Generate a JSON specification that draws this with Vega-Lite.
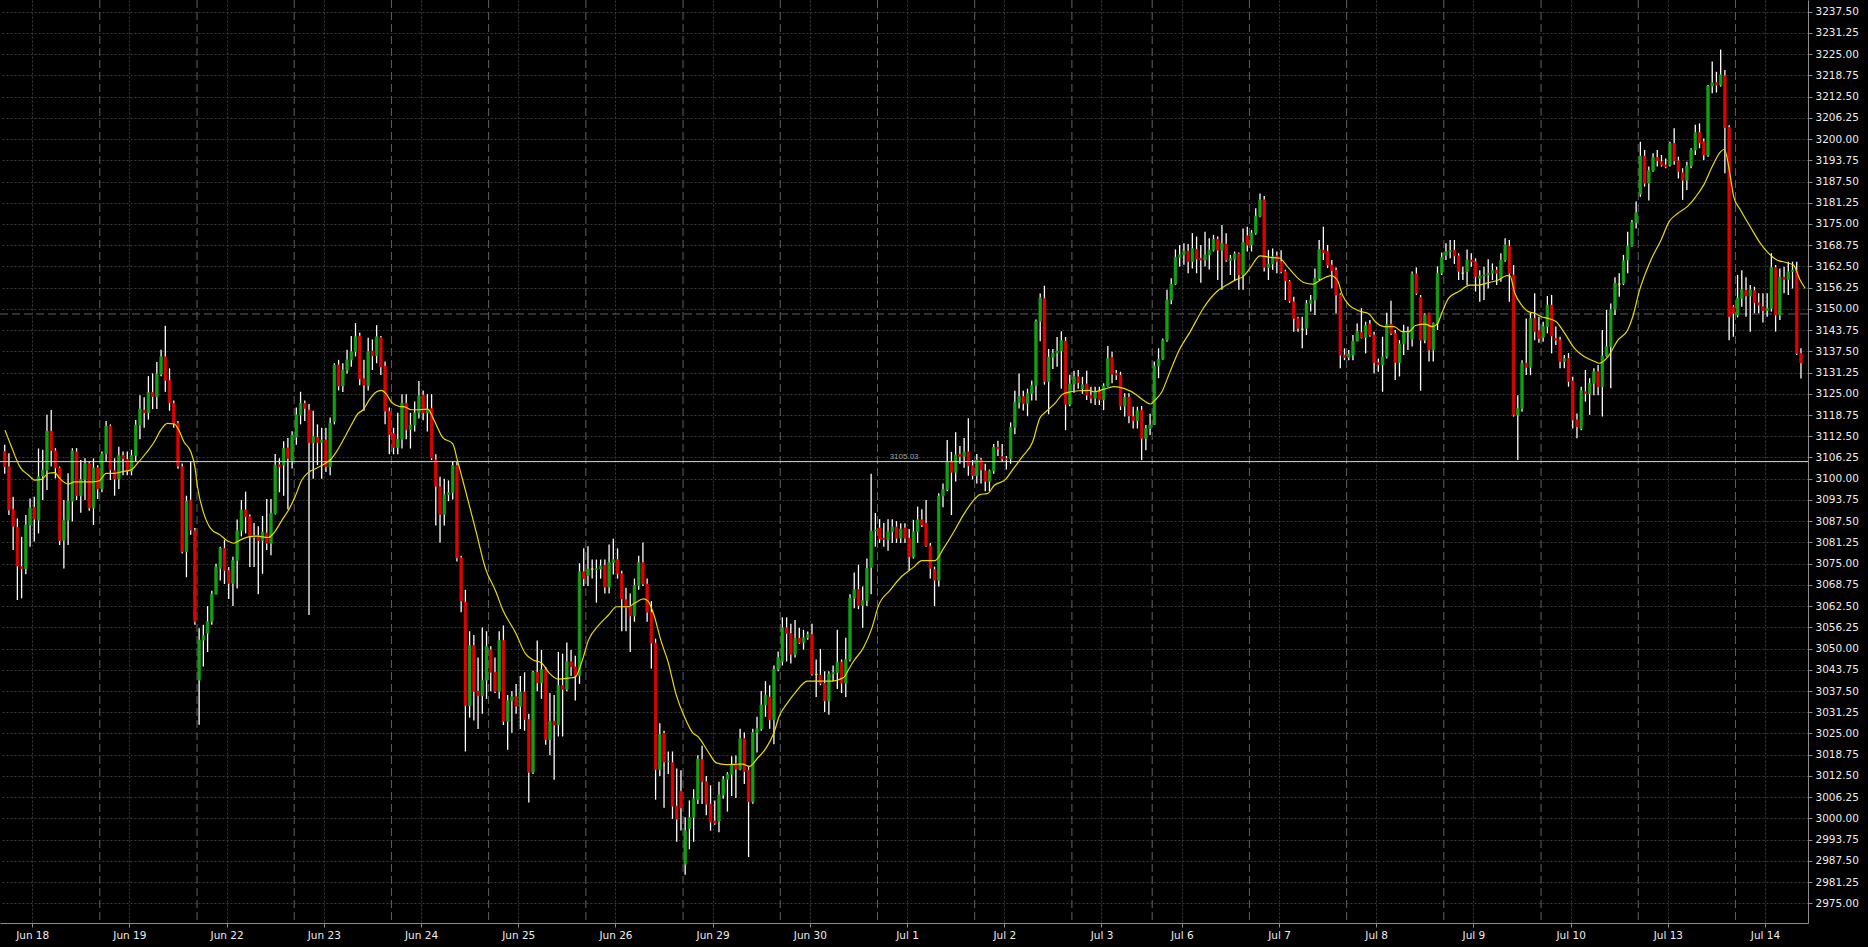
{
"$schema":"https://vega.github.io/schema/vega-lite/v6.json",
"width":1808,"height":923,
"autosize":{"type":"none"},
"padding":{"left":0,"top":0,"right":60,"bottom":24},
"background":"#000000",
"config":{"view":{"stroke":null},"font":"DejaVu Sans",
"axisX":{"labelColor":"#ececec","labelFont":"DejaVu Sans","labelFontSize":10.5,"labelPadding":3,"labelOverlap":false,"labelFlush":false,"domainColor":"#8c8c8c","tickColor":"#8c8c8c","tickSize":4,"grid":true,"gridColor":"#3a3a3a","gridDash":[2,2],"gridWidth":1,"title":null},
"axisY":{"labelColor":"#ececec","labelFont":"DejaVu Sans","labelFontSize":10.5,"labelPadding":3,"labelOverlap":false,"labelFlush":false,"domainColor":"#8c8c8c","tickColor":"#8c8c8c","tickSize":4,"grid":true,"gridColor":"#3a3a3a","gridDash":[2,2],"gridWidth":1,"title":null}},
"datasets":{
"bars":[
{"i":0,"o":3108.0,"h":3110.0,"l":3101.5,"c":3103.5},
{"i":1,"o":3103.5,"h":3107.5,"l":3089.3,"c":3090.8},
{"i":2,"o":3091.0,"h":3094.7,"l":3079.0,"c":3086.0},
{"i":3,"o":3085.7,"h":3088.3,"l":3064.3,"c":3074.3},
{"i":4,"o":3074.1,"h":3082.9,"l":3064.8,"c":3073.5},
{"i":5,"o":3073.5,"h":3089.3,"l":3071.9,"c":3086.4},
{"i":6,"o":3086.4,"h":3094.2,"l":3080.0,"c":3091.4},
{"i":7,"o":3091.6,"h":3094.7,"l":3081.5,"c":3088.1},
{"i":8,"o":3087.8,"h":3108.9,"l":3083.9,"c":3100.6},
{"i":9,"o":3100.8,"h":3108.5,"l":3093.7,"c":3102.5},
{"i":10,"o":3102.5,"h":3118.8,"l":3096.7,"c":3114.0},
{"i":11,"o":3114.0,"h":3120.2,"l":3103.6,"c":3108.3},
{"i":12,"o":3108.2,"h":3109.0,"l":3100.1,"c":3103.2},
{"i":13,"o":3103.2,"h":3103.6,"l":3080.5,"c":3081.8},
{"i":14,"o":3081.9,"h":3093.7,"l":3073.6,"c":3087.8},
{"i":15,"o":3087.8,"h":3101.6,"l":3080.5,"c":3093.4},
{"i":16,"o":3093.4,"h":3109.0,"l":3087.4,"c":3108.2},
{"i":17,"o":3107.9,"h":3109.0,"l":3093.7,"c":3095.0},
{"i":18,"o":3095.0,"h":3105.5,"l":3090.0,"c":3099.8},
{"i":19,"o":3099.8,"h":3106.0,"l":3093.7,"c":3104.5},
{"i":20,"o":3104.5,"h":3105.0,"l":3090.6,"c":3091.4},
{"i":21,"o":3091.4,"h":3106.0,"l":3086.4,"c":3103.2},
{"i":22,"o":3103.2,"h":3104.0,"l":3094.0,"c":3097.0},
{"i":23,"o":3097.0,"h":3108.0,"l":3096.0,"c":3107.3},
{"i":24,"o":3107.3,"h":3117.0,"l":3105.0,"c":3115.5},
{"i":25,"o":3115.5,"h":3116.0,"l":3099.6,"c":3102.6},
{"i":26,"o":3102.4,"h":3106.0,"l":3095.0,"c":3099.9},
{"i":27,"o":3099.9,"h":3109.4,"l":3097.0,"c":3106.8},
{"i":28,"o":3106.8,"h":3108.0,"l":3101.0,"c":3106.0},
{"i":29,"o":3105.7,"h":3108.0,"l":3101.0,"c":3102.3},
{"i":30,"o":3102.3,"h":3108.5,"l":3101.0,"c":3106.8},
{"i":31,"o":3106.8,"h":3117.3,"l":3105.0,"c":3115.8},
{"i":32,"o":3115.8,"h":3124.6,"l":3111.6,"c":3120.5},
{"i":33,"o":3120.2,"h":3124.0,"l":3115.0,"c":3119.4},
{"i":34,"o":3119.4,"h":3130.2,"l":3117.4,"c":3125.4},
{"i":35,"o":3125.4,"h":3131.0,"l":3120.5,"c":3124.2},
{"i":36,"o":3124.2,"h":3134.4,"l":3120.5,"c":3130.8},
{"i":37,"o":3130.8,"h":3138.0,"l":3130.2,"c":3135.9},
{"i":38,"o":3135.9,"h":3145.0,"l":3125.6,"c":3129.0},
{"i":39,"o":3129.0,"h":3132.5,"l":3120.0,"c":3122.4},
{"i":40,"o":3122.2,"h":3123.0,"l":3115.0,"c":3116.3},
{"i":41,"o":3116.3,"h":3117.0,"l":3102.9,"c":3103.8},
{"i":42,"o":3103.5,"h":3104.5,"l":3078.0,"c":3078.5},
{"i":43,"o":3078.5,"h":3095.0,"l":3071.0,"c":3093.4},
{"i":44,"o":3093.7,"h":3105.0,"l":3083.5,"c":3084.9},
{"i":45,"o":3084.7,"h":3085.5,"l":3057.0,"c":3057.9},
{"i":46,"o":3040.7,"h":3056.0,"l":3027.6,"c":3052.5},
{"i":47,"o":3052.5,"h":3057.0,"l":3044.7,"c":3053.8},
{"i":48,"o":3054.5,"h":3062.5,"l":3049.0,"c":3057.9},
{"i":49,"o":3058.0,"h":3067.0,"l":3057.0,"c":3066.0},
{"i":50,"o":3066.0,"h":3075.0,"l":3066.0,"c":3074.0},
{"i":51,"o":3073.6,"h":3080.0,"l":3070.0,"c":3079.5},
{"i":52,"o":3079.5,"h":3082.0,"l":3069.0,"c":3073.0},
{"i":53,"o":3073.0,"h":3074.0,"l":3064.6,"c":3069.2},
{"i":54,"o":3069.2,"h":3077.0,"l":3062.5,"c":3076.0},
{"i":55,"o":3076.0,"h":3088.0,"l":3067.7,"c":3084.7},
{"i":56,"o":3084.7,"h":3093.7,"l":3083.0,"c":3090.8},
{"i":57,"o":3090.8,"h":3096.2,"l":3083.9,"c":3088.8},
{"i":58,"o":3088.8,"h":3089.5,"l":3074.0,"c":3083.0},
{"i":59,"o":3083.3,"h":3087.0,"l":3074.0,"c":3082.7},
{"i":60,"o":3083.3,"h":3086.0,"l":3066.0,"c":3081.8},
{"i":61,"o":3081.8,"h":3089.0,"l":3072.0,"c":3084.3},
{"i":62,"o":3084.0,"h":3094.0,"l":3079.0,"c":3081.0},
{"i":63,"o":3081.0,"h":3094.0,"l":3077.5,"c":3089.8},
{"i":64,"o":3089.8,"h":3107.3,"l":3089.5,"c":3104.0},
{"i":65,"o":3104.1,"h":3106.0,"l":3096.0,"c":3103.5},
{"i":66,"o":3104.0,"h":3111.0,"l":3095.0,"c":3109.0},
{"i":67,"o":3109.0,"h":3112.0,"l":3091.0,"c":3106.0},
{"i":68,"o":3105.0,"h":3114.0,"l":3103.0,"c":3112.8},
{"i":69,"o":3112.2,"h":3121.0,"l":3110.0,"c":3118.8},
{"i":70,"o":3118.8,"h":3125.6,"l":3116.0,"c":3122.2},
{"i":71,"o":3122.2,"h":3123.0,"l":3117.0,"c":3120.7},
{"i":72,"o":3120.2,"h":3122.0,"l":3059.9,"c":3110.6},
{"i":73,"o":3110.6,"h":3120.0,"l":3100.0,"c":3112.4},
{"i":74,"o":3112.2,"h":3116.0,"l":3104.0,"c":3110.6},
{"i":75,"o":3110.6,"h":3115.0,"l":3100.0,"c":3111.4},
{"i":76,"o":3111.4,"h":3115.0,"l":3102.0,"c":3103.5},
{"i":77,"o":3103.5,"h":3118.0,"l":3101.0,"c":3116.3},
{"i":78,"o":3116.8,"h":3134.0,"l":3116.0,"c":3133.5},
{"i":79,"o":3133.5,"h":3135.0,"l":3126.0,"c":3127.3},
{"i":80,"o":3127.3,"h":3134.0,"l":3125.5,"c":3132.0},
{"i":81,"o":3132.0,"h":3138.0,"l":3131.0,"c":3135.0},
{"i":82,"o":3135.0,"h":3142.0,"l":3133.0,"c":3137.4},
{"i":83,"o":3137.4,"h":3145.8,"l":3136.0,"c":3141.8},
{"i":84,"o":3142.0,"h":3143.0,"l":3127.5,"c":3129.4},
{"i":85,"o":3129.4,"h":3135.0,"l":3120.0,"c":3127.6},
{"i":86,"o":3127.4,"h":3141.5,"l":3126.0,"c":3137.4},
{"i":87,"o":3137.6,"h":3141.0,"l":3132.0,"c":3136.2},
{"i":88,"o":3136.2,"h":3145.2,"l":3134.0,"c":3141.8},
{"i":89,"o":3141.5,"h":3142.0,"l":3130.5,"c":3132.9},
{"i":90,"o":3133.1,"h":3134.5,"l":3116.0,"c":3119.9},
{"i":91,"o":3119.9,"h":3121.0,"l":3107.2,"c":3113.0},
{"i":92,"o":3113.3,"h":3115.0,"l":3107.2,"c":3109.2},
{"i":93,"o":3109.2,"h":3119.4,"l":3107.2,"c":3111.6},
{"i":94,"o":3111.6,"h":3124.9,"l":3108.9,"c":3122.2},
{"i":95,"o":3122.2,"h":3124.9,"l":3111.6,"c":3114.4},
{"i":96,"o":3114.4,"h":3119.4,"l":3108.9,"c":3115.8},
{"i":97,"o":3115.8,"h":3122.7,"l":3113.9,"c":3119.4},
{"i":98,"o":3119.4,"h":3128.8,"l":3117.7,"c":3124.4},
{"i":99,"o":3124.6,"h":3126.0,"l":3117.2,"c":3119.4},
{"i":100,"o":3119.4,"h":3124.9,"l":3113.9,"c":3120.5},
{"i":101,"o":3120.7,"h":3124.9,"l":3105.5,"c":3106.1},
{"i":102,"o":3105.5,"h":3107.2,"l":3086.2,"c":3097.8},
{"i":103,"o":3097.6,"h":3100.6,"l":3081.2,"c":3089.5},
{"i":104,"o":3089.5,"h":3100.0,"l":3086.2,"c":3095.3},
{"i":105,"o":3095.3,"h":3099.5,"l":3093.4,"c":3095.9},
{"i":106,"o":3095.9,"h":3105.0,"l":3093.9,"c":3103.9},
{"i":107,"o":3103.9,"h":3105.0,"l":3075.6,"c":3076.7},
{"i":108,"o":3076.7,"h":3077.3,"l":3060.7,"c":3064.0},
{"i":109,"o":3063.7,"h":3067.3,"l":3019.7,"c":3033.2},
{"i":110,"o":3033.2,"h":3055.1,"l":3029.7,"c":3050.9},
{"i":111,"o":3050.9,"h":3054.0,"l":3028.8,"c":3037.4},
{"i":112,"o":3037.4,"h":3047.4,"l":3026.3,"c":3036.1},
{"i":113,"o":3036.1,"h":3056.2,"l":3030.8,"c":3040.7},
{"i":114,"o":3040.7,"h":3055.1,"l":3035.2,"c":3050.7},
{"i":115,"o":3049.6,"h":3050.7,"l":3037.4,"c":3043.0},
{"i":116,"o":3043.0,"h":3047.4,"l":3036.9,"c":3037.4},
{"i":117,"o":3037.4,"h":3055.1,"l":3035.2,"c":3052.4},
{"i":118,"o":3052.4,"h":3056.8,"l":3027.5,"c":3028.6},
{"i":119,"o":3028.6,"h":3036.3,"l":3020.2,"c":3034.6},
{"i":120,"o":3034.6,"h":3037.4,"l":3025.2,"c":3035.8},
{"i":121,"o":3035.8,"h":3039.6,"l":3030.8,"c":3033.0},
{"i":122,"o":3033.0,"h":3041.9,"l":3026.3,"c":3037.2},
{"i":123,"o":3037.2,"h":3043.0,"l":3025.8,"c":3029.1},
{"i":124,"o":3029.1,"h":3030.8,"l":3004.7,"c":3013.6},
{"i":125,"o":3013.6,"h":3043.5,"l":3013.1,"c":3043.0},
{"i":126,"o":3043.0,"h":3052.4,"l":3037.4,"c":3039.9},
{"i":127,"o":3039.9,"h":3049.6,"l":3035.2,"c":3043.8},
{"i":128,"o":3043.8,"h":3044.6,"l":3021.7,"c":3023.2},
{"i":129,"o":3023.2,"h":3036.9,"l":3018.6,"c":3028.6},
{"i":130,"o":3028.6,"h":3036.3,"l":3011.4,"c":3027.5},
{"i":131,"o":3027.5,"h":3049.0,"l":3024.1,"c":3039.1},
{"i":132,"o":3039.1,"h":3048.5,"l":3024.1,"c":3038.0},
{"i":133,"o":3038.0,"h":3051.8,"l":3037.4,"c":3046.1},
{"i":134,"o":3046.1,"h":3049.6,"l":3041.9,"c":3044.6},
{"i":135,"o":3044.6,"h":3047.9,"l":3034.7,"c":3042.1},
{"i":136,"o":3042.1,"h":3075.1,"l":3039.6,"c":3072.6},
{"i":137,"o":3072.6,"h":3079.5,"l":3068.4,"c":3070.6},
{"i":138,"o":3071.5,"h":3080.1,"l":3068.4,"c":3073.4},
{"i":139,"o":3073.4,"h":3076.2,"l":3070.6,"c":3073.4},
{"i":140,"o":3073.2,"h":3076.2,"l":3063.5,"c":3073.5},
{"i":141,"o":3073.4,"h":3076.2,"l":3070.6,"c":3074.3},
{"i":142,"o":3074.5,"h":3076.2,"l":3066.2,"c":3068.1},
{"i":143,"o":3068.1,"h":3080.6,"l":3066.2,"c":3075.3},
{"i":144,"o":3075.3,"h":3082.3,"l":3071.8,"c":3076.2},
{"i":145,"o":3076.2,"h":3079.5,"l":3070.6,"c":3072.0},
{"i":146,"o":3072.0,"h":3072.9,"l":3055.1,"c":3064.6},
{"i":147,"o":3064.4,"h":3067.9,"l":3055.1,"c":3062.0},
{"i":148,"o":3062.6,"h":3066.2,"l":3049.0,"c":3059.6},
{"i":149,"o":3059.6,"h":3070.6,"l":3057.9,"c":3068.6},
{"i":150,"o":3068.6,"h":3077.3,"l":3067.3,"c":3075.3},
{"i":151,"o":3075.3,"h":3081.2,"l":3068.4,"c":3069.0},
{"i":152,"o":3069.0,"h":3070.6,"l":3057.9,"c":3060.7},
{"i":153,"o":3060.7,"h":3064.0,"l":3044.1,"c":3051.6},
{"i":154,"o":3051.6,"h":3052.9,"l":3005.5,"c":3014.4},
{"i":155,"o":3014.4,"h":3028.0,"l":3012.5,"c":3024.7},
{"i":156,"o":3025.0,"h":3025.8,"l":3003.1,"c":3016.6},
{"i":157,"o":3016.6,"h":3019.7,"l":3013.1,"c":3016.9},
{"i":158,"o":3016.4,"h":3019.7,"l":2999.8,"c":3003.6},
{"i":159,"o":3003.6,"h":3014.7,"l":2993.1,"c":2999.8},
{"i":160,"o":3008.0,"h":3014.2,"l":2996.4,"c":3003.1},
{"i":161,"o":2986.5,"h":3000.3,"l":2983.4,"c":2996.4},
{"i":162,"o":2997.0,"h":3005.3,"l":2990.9,"c":3000.3},
{"i":163,"o":3000.3,"h":3008.6,"l":2993.1,"c":3005.8},
{"i":164,"o":3005.5,"h":3018.6,"l":3004.2,"c":3017.5},
{"i":165,"o":3017.3,"h":3021.4,"l":3004.2,"c":3010.8},
{"i":166,"o":3010.8,"h":3012.5,"l":3000.9,"c":3004.2},
{"i":167,"o":3004.2,"h":3009.7,"l":2996.4,"c":2998.9},
{"i":168,"o":2999.2,"h":3005.3,"l":2998.1,"c":2998.6},
{"i":169,"o":2999.2,"h":3010.8,"l":2995.9,"c":3006.9},
{"i":170,"o":3006.9,"h":3012.5,"l":3005.8,"c":3011.5},
{"i":171,"o":3011.5,"h":3013.6,"l":3002.0,"c":3013.0},
{"i":172,"o":3013.0,"h":3018.3,"l":3006.6,"c":3015.9},
{"i":173,"o":3016.1,"h":3018.5,"l":3006.0,"c":3014.5},
{"i":174,"o":3014.5,"h":3026.4,"l":3014.2,"c":3023.5},
{"i":175,"o":3023.5,"h":3025.3,"l":3010.1,"c":3013.8},
{"i":176,"o":3014.2,"h":3015.4,"l":2988.6,"c":3004.9},
{"i":177,"o":3004.9,"h":3026.4,"l":3004.3,"c":3025.3},
{"i":178,"o":3025.3,"h":3029.9,"l":3019.4,"c":3026.4},
{"i":179,"o":3026.4,"h":3037.5,"l":3025.8,"c":3033.4},
{"i":180,"o":3033.4,"h":3040.4,"l":3029.9,"c":3036.3},
{"i":181,"o":3035.7,"h":3039.2,"l":3026.4,"c":3029.0},
{"i":182,"o":3029.0,"h":3045.0,"l":3021.8,"c":3043.9},
{"i":183,"o":3043.9,"h":3049.1,"l":3043.3,"c":3047.4},
{"i":184,"o":3046.2,"h":3059.2,"l":3045.0,"c":3056.1},
{"i":185,"o":3056.1,"h":3059.2,"l":3046.2,"c":3054.4},
{"i":186,"o":3054.4,"h":3057.3,"l":3045.6,"c":3048.3},
{"i":187,"o":3048.3,"h":3058.4,"l":3047.4,"c":3053.0},
{"i":188,"o":3053.0,"h":3056.1,"l":3051.4,"c":3051.8},
{"i":189,"o":3051.8,"h":3055.5,"l":3049.7,"c":3053.2},
{"i":190,"o":3053.2,"h":3055.0,"l":3052.6,"c":3054.1},
{"i":191,"o":3054.1,"h":3057.3,"l":3042.1,"c":3042.5},
{"i":192,"o":3042.4,"h":3046.8,"l":3035.7,"c":3042.4},
{"i":193,"o":3042.2,"h":3049.9,"l":3039.2,"c":3039.8},
{"i":194,"o":3039.8,"h":3043.3,"l":3031.3,"c":3034.6},
{"i":195,"o":3034.6,"h":3043.3,"l":3030.5,"c":3042.5},
{"i":196,"o":3042.5,"h":3045.0,"l":3040.4,"c":3042.9},
{"i":197,"o":3042.9,"h":3055.5,"l":3038.1,"c":3046.0},
{"i":198,"o":3046.0,"h":3046.8,"l":3036.9,"c":3039.8},
{"i":199,"o":3039.8,"h":3053.2,"l":3035.7,"c":3046.8},
{"i":200,"o":3046.8,"h":3066.0,"l":3046.2,"c":3064.8},
{"i":201,"o":3064.8,"h":3072.4,"l":3061.9,"c":3067.4},
{"i":202,"o":3067.4,"h":3074.7,"l":3061.6,"c":3062.7},
{"i":203,"o":3062.7,"h":3068.3,"l":3056.1,"c":3064.2},
{"i":204,"o":3064.2,"h":3076.5,"l":3062.5,"c":3073.6},
{"i":205,"o":3073.9,"h":3101.5,"l":3066.0,"c":3084.6},
{"i":206,"o":3084.6,"h":3089.9,"l":3080.0,"c":3084.9},
{"i":207,"o":3085.5,"h":3088.1,"l":3081.1,"c":3082.3},
{"i":208,"o":3082.5,"h":3087.0,"l":3080.0,"c":3082.1},
{"i":209,"o":3082.1,"h":3088.1,"l":3078.8,"c":3084.4},
{"i":210,"o":3084.4,"h":3088.1,"l":3081.1,"c":3085.8},
{"i":211,"o":3085.8,"h":3087.5,"l":3081.1,"c":3082.5},
{"i":212,"o":3082.5,"h":3086.9,"l":3081.1,"c":3085.2},
{"i":213,"o":3085.5,"h":3086.9,"l":3081.1,"c":3082.5},
{"i":214,"o":3082.5,"h":3085.2,"l":3073.0,"c":3077.0},
{"i":215,"o":3077.0,"h":3087.9,"l":3076.5,"c":3084.4},
{"i":216,"o":3084.4,"h":3091.8,"l":3081.1,"c":3087.9},
{"i":217,"o":3087.9,"h":3091.0,"l":3085.8,"c":3086.4},
{"i":218,"o":3086.9,"h":3093.7,"l":3080.0,"c":3080.2},
{"i":219,"o":3080.2,"h":3081.1,"l":3070.6,"c":3073.6},
{"i":220,"o":3073.2,"h":3074.1,"l":3062.5,"c":3070.1},
{"i":221,"o":3070.1,"h":3095.7,"l":3068.3,"c":3094.9},
{"i":222,"o":3094.9,"h":3098.6,"l":3091.6,"c":3096.8},
{"i":223,"o":3096.8,"h":3111.4,"l":3096.3,"c":3105.0},
{"i":224,"o":3105.0,"h":3107.9,"l":3089.3,"c":3101.9},
{"i":225,"o":3101.9,"h":3113.7,"l":3099.2,"c":3107.0},
{"i":226,"o":3107.2,"h":3109.6,"l":3104.4,"c":3106.5},
{"i":227,"o":3106.5,"h":3112.0,"l":3103.2,"c":3107.9},
{"i":228,"o":3107.9,"h":3117.8,"l":3100.9,"c":3103.8},
{"i":229,"o":3103.8,"h":3105.5,"l":3099.8,"c":3100.9},
{"i":230,"o":3100.9,"h":3107.3,"l":3098.6,"c":3105.5},
{"i":231,"o":3105.5,"h":3106.2,"l":3098.6,"c":3102.6},
{"i":232,"o":3102.3,"h":3104.4,"l":3096.3,"c":3099.2},
{"i":233,"o":3099.2,"h":3102.7,"l":3096.3,"c":3102.3},
{"i":234,"o":3102.3,"h":3110.2,"l":3101.5,"c":3109.3},
{"i":235,"o":3109.3,"h":3111.2,"l":3106.7,"c":3108.8},
{"i":236,"o":3106.5,"h":3110.2,"l":3105.0,"c":3105.8},
{"i":237,"o":3106.0,"h":3106.7,"l":3102.7,"c":3105.6},
{"i":238,"o":3105.8,"h":3116.6,"l":3104.4,"c":3115.1},
{"i":239,"o":3115.1,"h":3125.9,"l":3113.1,"c":3122.5},
{"i":240,"o":3122.5,"h":3131.0,"l":3120.7,"c":3124.2},
{"i":241,"o":3124.2,"h":3125.9,"l":3120.1,"c":3122.1},
{"i":242,"o":3122.1,"h":3126.5,"l":3118.4,"c":3125.1},
{"i":243,"o":3125.1,"h":3128.9,"l":3123.0,"c":3127.5},
{"i":244,"o":3127.5,"h":3146.9,"l":3123.0,"c":3146.3},
{"i":245,"o":3146.3,"h":3154.5,"l":3140.5,"c":3153.3},
{"i":246,"o":3153.1,"h":3156.8,"l":3127.7,"c":3128.6},
{"i":247,"o":3128.6,"h":3138.2,"l":3119.0,"c":3135.8},
{"i":248,"o":3135.8,"h":3138.2,"l":3132.3,"c":3137.0},
{"i":249,"o":3137.0,"h":3141.7,"l":3133.0,"c":3137.6},
{"i":250,"o":3137.6,"h":3143.4,"l":3126.5,"c":3140.7},
{"i":251,"o":3140.5,"h":3141.7,"l":3114.3,"c":3121.9},
{"i":252,"o":3121.9,"h":3130.6,"l":3121.3,"c":3127.9},
{"i":253,"o":3127.9,"h":3131.8,"l":3125.3,"c":3130.0},
{"i":254,"o":3130.0,"h":3132.0,"l":3126.5,"c":3128.3},
{"i":255,"o":3126.5,"h":3130.0,"l":3125.0,"c":3127.7},
{"i":256,"o":3127.9,"h":3131.8,"l":3123.2,"c":3124.6},
{"i":257,"o":3124.6,"h":3127.1,"l":3122.2,"c":3123.7},
{"i":258,"o":3123.7,"h":3127.1,"l":3121.7,"c":3125.6},
{"i":259,"o":3125.6,"h":3127.1,"l":3121.7,"c":3123.2},
{"i":260,"o":3123.2,"h":3128.1,"l":3120.2,"c":3127.3},
{"i":261,"o":3127.3,"h":3139.1,"l":3127.1,"c":3135.4},
{"i":262,"o":3135.7,"h":3137.4,"l":3128.1,"c":3130.8},
{"i":263,"o":3131.0,"h":3132.0,"l":3129.1,"c":3130.5},
{"i":264,"o":3130.5,"h":3131.5,"l":3120.2,"c":3121.4},
{"i":265,"o":3121.4,"h":3125.2,"l":3118.3,"c":3124.0},
{"i":266,"o":3124.0,"h":3125.2,"l":3116.3,"c":3118.5},
{"i":267,"o":3118.3,"h":3121.2,"l":3114.8,"c":3117.1},
{"i":268,"o":3117.1,"h":3121.2,"l":3114.8,"c":3120.0},
{"i":269,"o":3120.2,"h":3121.4,"l":3105.5,"c":3111.9},
{"i":270,"o":3111.9,"h":3115.8,"l":3108.4,"c":3114.8},
{"i":271,"o":3114.8,"h":3119.1,"l":3112.9,"c":3115.8},
{"i":272,"o":3116.0,"h":3134.5,"l":3115.8,"c":3133.2},
{"i":273,"o":3133.2,"h":3138.4,"l":3129.6,"c":3135.2},
{"i":274,"o":3135.2,"h":3141.3,"l":3135.0,"c":3140.8},
{"i":275,"o":3140.8,"h":3155.6,"l":3140.3,"c":3152.6},
{"i":276,"o":3152.6,"h":3159.0,"l":3151.4,"c":3157.3},
{"i":277,"o":3157.3,"h":3167.5,"l":3157.0,"c":3165.2},
{"i":278,"o":3165.2,"h":3168.8,"l":3162.5,"c":3165.9},
{"i":279,"o":3165.9,"h":3169.3,"l":3163.0,"c":3167.0},
{"i":280,"o":3167.0,"h":3169.1,"l":3160.5,"c":3163.9},
{"i":281,"o":3163.9,"h":3172.3,"l":3161.9,"c":3167.8},
{"i":282,"o":3167.5,"h":3171.3,"l":3160.5,"c":3164.7},
{"i":283,"o":3164.9,"h":3168.8,"l":3157.7,"c":3164.4},
{"i":284,"o":3164.4,"h":3172.7,"l":3162.5,"c":3165.9},
{"i":285,"o":3165.9,"h":3170.8,"l":3161.6,"c":3167.3},
{"i":286,"o":3167.3,"h":3171.8,"l":3166.9,"c":3170.5},
{"i":287,"o":3170.5,"h":3171.3,"l":3158.5,"c":3167.3},
{"i":288,"o":3167.3,"h":3174.7,"l":3155.6,"c":3169.3},
{"i":289,"o":3169.1,"h":3172.3,"l":3163.9,"c":3164.4},
{"i":290,"o":3164.2,"h":3165.9,"l":3160.0,"c":3164.9},
{"i":291,"o":3164.6,"h":3166.9,"l":3158.5,"c":3166.2},
{"i":292,"o":3166.2,"h":3166.6,"l":3155.6,"c":3160.0},
{"i":293,"o":3160.0,"h":3173.7,"l":3155.6,"c":3169.5},
{"i":294,"o":3171.5,"h":3174.2,"l":3166.9,"c":3168.8},
{"i":295,"o":3168.8,"h":3173.2,"l":3166.9,"c":3172.3},
{"i":296,"o":3172.3,"h":3179.6,"l":3171.8,"c":3177.3},
{"i":297,"o":3177.3,"h":3184.0,"l":3177.0,"c":3182.1},
{"i":298,"o":3182.1,"h":3183.2,"l":3161.0,"c":3162.2},
{"i":299,"o":3162.2,"h":3167.3,"l":3158.5,"c":3163.2},
{"i":300,"o":3163.2,"h":3167.8,"l":3161.5,"c":3165.4},
{"i":301,"o":3165.6,"h":3166.9,"l":3160.5,"c":3163.9},
{"i":302,"o":3163.9,"h":3167.3,"l":3160.5,"c":3161.0},
{"i":303,"o":3161.0,"h":3161.5,"l":3152.6,"c":3158.3},
{"i":304,"o":3158.0,"h":3158.5,"l":3151.8,"c":3152.4},
{"i":305,"o":3152.1,"h":3153.6,"l":3143.3,"c":3147.2},
{"i":306,"o":3147.2,"h":3147.7,"l":3143.3,"c":3144.3},
{"i":307,"o":3144.0,"h":3147.7,"l":3138.4,"c":3144.0},
{"i":308,"o":3144.3,"h":3152.6,"l":3142.3,"c":3151.6},
{"i":309,"o":3151.6,"h":3154.1,"l":3149.2,"c":3152.6},
{"i":310,"o":3152.6,"h":3161.9,"l":3148.2,"c":3159.0},
{"i":311,"o":3159.0,"h":3170.3,"l":3158.5,"c":3167.5},
{"i":312,"o":3167.3,"h":3174.2,"l":3164.4,"c":3166.6},
{"i":313,"o":3166.9,"h":3168.8,"l":3162.0,"c":3162.9},
{"i":314,"o":3162.9,"h":3164.4,"l":3156.1,"c":3161.3},
{"i":315,"o":3161.3,"h":3162.2,"l":3148.7,"c":3154.1},
{"i":316,"o":3154.1,"h":3154.6,"l":3132.5,"c":3136.4},
{"i":317,"o":3136.4,"h":3138.4,"l":3134.9,"c":3135.7},
{"i":318,"o":3135.7,"h":3137.9,"l":3134.9,"c":3136.7},
{"i":319,"o":3136.4,"h":3142.3,"l":3134.9,"c":3140.5},
{"i":320,"o":3140.5,"h":3145.7,"l":3140.5,"c":3143.3},
{"i":321,"o":3143.0,"h":3150.2,"l":3141.3,"c":3141.6},
{"i":322,"o":3141.6,"h":3146.2,"l":3136.9,"c":3145.2},
{"i":323,"o":3145.5,"h":3146.7,"l":3141.8,"c":3142.3},
{"i":324,"o":3142.3,"h":3143.3,"l":3131.0,"c":3134.2},
{"i":325,"o":3134.2,"h":3135.4,"l":3131.5,"c":3133.5},
{"i":326,"o":3133.5,"h":3141.8,"l":3125.6,"c":3135.9},
{"i":327,"o":3135.9,"h":3148.9,"l":3135.4,"c":3145.5},
{"i":328,"o":3145.5,"h":3152.4,"l":3142.3,"c":3142.8},
{"i":329,"o":3142.8,"h":3143.8,"l":3129.1,"c":3134.2},
{"i":330,"o":3134.2,"h":3140.8,"l":3130.1,"c":3139.7},
{"i":331,"o":3139.7,"h":3145.3,"l":3136.4,"c":3143.0},
{"i":332,"o":3143.0,"h":3144.8,"l":3137.9,"c":3143.3},
{"i":333,"o":3141.1,"h":3161.0,"l":3138.9,"c":3160.3},
{"i":334,"o":3160.3,"h":3162.2,"l":3154.1,"c":3154.6},
{"i":335,"o":3153.4,"h":3154.1,"l":3125.9,"c":3140.8},
{"i":336,"o":3140.8,"h":3148.7,"l":3139.9,"c":3148.2},
{"i":337,"o":3148.7,"h":3148.9,"l":3134.5,"c":3137.9},
{"i":338,"o":3137.9,"h":3146.0,"l":3134.5,"c":3145.7},
{"i":339,"o":3145.7,"h":3162.5,"l":3143.8,"c":3160.5},
{"i":340,"o":3160.5,"h":3166.6,"l":3160.0,"c":3165.2},
{"i":341,"o":3165.8,"h":3169.3,"l":3164.4,"c":3166.8},
{"i":342,"o":3166.8,"h":3170.3,"l":3164.9,"c":3167.2},
{"i":343,"o":3167.3,"h":3170.3,"l":3163.2,"c":3165.6},
{"i":344,"o":3165.6,"h":3166.4,"l":3158.5,"c":3161.0},
{"i":345,"o":3160.5,"h":3162.4,"l":3158.5,"c":3160.5},
{"i":346,"o":3161.0,"h":3167.5,"l":3157.0,"c":3164.4},
{"i":347,"o":3164.4,"h":3166.4,"l":3162.4,"c":3163.9},
{"i":348,"o":3163.9,"h":3164.9,"l":3155.1,"c":3159.5},
{"i":349,"o":3159.0,"h":3161.4,"l":3152.1,"c":3159.7},
{"i":350,"o":3159.7,"h":3162.4,"l":3152.6,"c":3160.0},
{"i":351,"o":3160.0,"h":3164.6,"l":3156.0,"c":3160.5},
{"i":352,"o":3160.5,"h":3163.4,"l":3158.5,"c":3161.4},
{"i":353,"o":3161.4,"h":3162.4,"l":3157.0,"c":3160.5},
{"i":354,"o":3159.0,"h":3166.4,"l":3158.0,"c":3164.4},
{"i":355,"o":3164.4,"h":3170.8,"l":3163.9,"c":3168.8},
{"i":356,"o":3168.5,"h":3170.3,"l":3152.1,"c":3160.5},
{"i":357,"o":3160.0,"h":3162.9,"l":3118.3,"c":3118.8},
{"i":358,"o":3118.8,"h":3124.6,"l":3105.5,"c":3120.7},
{"i":359,"o":3120.7,"h":3134.9,"l":3119.7,"c":3134.0},
{"i":360,"o":3134.0,"h":3147.2,"l":3130.5,"c":3132.8},
{"i":361,"o":3132.8,"h":3148.9,"l":3130.5,"c":3147.2},
{"i":362,"o":3147.2,"h":3154.6,"l":3140.8,"c":3143.3},
{"i":363,"o":3143.6,"h":3147.7,"l":3140.0,"c":3141.3},
{"i":364,"o":3141.6,"h":3146.2,"l":3140.3,"c":3144.8},
{"i":365,"o":3144.8,"h":3153.8,"l":3142.8,"c":3151.1},
{"i":366,"o":3151.1,"h":3154.1,"l":3136.9,"c":3142.0},
{"i":367,"o":3141.3,"h":3144.8,"l":3139.4,"c":3140.8},
{"i":368,"o":3140.8,"h":3141.8,"l":3132.5,"c":3134.5},
{"i":369,"o":3134.5,"h":3136.4,"l":3132.5,"c":3135.4},
{"i":370,"o":3135.4,"h":3137.0,"l":3127.1,"c":3128.6},
{"i":371,"o":3128.8,"h":3130.0,"l":3114.8,"c":3117.3},
{"i":372,"o":3117.3,"h":3119.2,"l":3111.9,"c":3115.3},
{"i":373,"o":3114.8,"h":3127.1,"l":3114.3,"c":3125.9},
{"i":374,"o":3125.6,"h":3132.0,"l":3122.7,"c":3125.1},
{"i":375,"o":3125.1,"h":3129.6,"l":3118.8,"c":3128.1},
{"i":376,"o":3128.1,"h":3132.5,"l":3124.6,"c":3131.5},
{"i":377,"o":3131.5,"h":3133.5,"l":3124.6,"c":3127.1},
{"i":378,"o":3127.1,"h":3143.8,"l":3118.3,"c":3136.1},
{"i":379,"o":3136.1,"h":3149.7,"l":3135.9,"c":3138.9},
{"i":380,"o":3138.9,"h":3151.6,"l":3126.6,"c":3149.9},
{"i":381,"o":3149.9,"h":3159.3,"l":3148.2,"c":3157.5},
{"i":382,"o":3157.3,"h":3160.5,"l":3153.6,"c":3157.3},
{"i":383,"o":3157.5,"h":3165.9,"l":3157.0,"c":3164.2},
{"i":384,"o":3164.4,"h":3172.7,"l":3160.5,"c":3168.5},
{"i":385,"o":3168.5,"h":3176.2,"l":3168.3,"c":3175.4},
{"i":386,"o":3175.4,"h":3181.6,"l":3173.7,"c":3178.3},
{"i":387,"o":3183.8,"h":3199.2,"l":3183.0,"c":3195.0},
{"i":388,"o":3195.0,"h":3196.8,"l":3186.0,"c":3187.0},
{"i":389,"o":3187.0,"h":3191.9,"l":3181.9,"c":3190.7},
{"i":390,"o":3190.7,"h":3195.8,"l":3190.4,"c":3194.6},
{"i":391,"o":3194.6,"h":3196.8,"l":3191.9,"c":3193.6},
{"i":392,"o":3193.3,"h":3195.3,"l":3191.9,"c":3192.4},
{"i":393,"o":3192.4,"h":3194.3,"l":3191.4,"c":3191.9},
{"i":394,"o":3192.4,"h":3199.2,"l":3191.9,"c":3198.7},
{"i":395,"o":3198.7,"h":3203.2,"l":3192.4,"c":3193.6},
{"i":396,"o":3193.6,"h":3194.8,"l":3188.4,"c":3190.4},
{"i":397,"o":3190.1,"h":3191.4,"l":3182.1,"c":3187.9},
{"i":398,"o":3187.9,"h":3193.3,"l":3185.0,"c":3192.1},
{"i":399,"o":3192.1,"h":3197.3,"l":3191.4,"c":3196.8},
{"i":400,"o":3196.8,"h":3204.2,"l":3195.3,"c":3201.9},
{"i":401,"o":3201.9,"h":3204.6,"l":3197.3,"c":3198.9},
{"i":402,"o":3199.2,"h":3200.2,"l":3193.8,"c":3195.3},
{"i":403,"o":3195.3,"h":3215.9,"l":3194.8,"c":3215.6},
{"i":404,"o":3215.6,"h":3222.8,"l":3213.5,"c":3216.6},
{"i":405,"o":3216.6,"h":3219.8,"l":3213.7,"c":3215.9},
{"i":406,"o":3215.9,"h":3226.4,"l":3215.5,"c":3218.9},
{"i":407,"o":3218.6,"h":3220.3,"l":3189.9,"c":3203.4},
{"i":408,"o":3203.4,"h":3204.1,"l":3140.8,"c":3147.7},
{"i":409,"o":3150.6,"h":3151.1,"l":3141.8,"c":3148.7},
{"i":410,"o":3148.2,"h":3160.0,"l":3147.5,"c":3153.1},
{"i":411,"o":3153.1,"h":3161.4,"l":3150.6,"c":3155.6},
{"i":412,"o":3155.4,"h":3159.3,"l":3147.7,"c":3153.8},
{"i":413,"o":3153.8,"h":3157.0,"l":3143.3,"c":3155.6},
{"i":414,"o":3155.4,"h":3156.5,"l":3148.7,"c":3151.8},
{"i":415,"o":3151.8,"h":3154.6,"l":3148.7,"c":3151.1},
{"i":416,"o":3150.6,"h":3154.6,"l":3146.0,"c":3149.5},
{"i":417,"o":3149.5,"h":3154.6,"l":3147.7,"c":3150.2},
{"i":418,"o":3150.2,"h":3166.4,"l":3149.2,"c":3162.2},
{"i":419,"o":3162.2,"h":3162.9,"l":3143.3,"c":3148.2},
{"i":420,"o":3148.2,"h":3161.9,"l":3146.7,"c":3159.3},
{"i":421,"o":3159.3,"h":3162.4,"l":3154.6,"c":3158.7},
{"i":422,"o":3158.7,"h":3163.9,"l":3154.1,"c":3160.9},
{"i":423,"o":3161.0,"h":3163.9,"l":3156.0,"c":3161.4},
{"i":424,"o":3161.4,"h":3163.9,"l":3136.4,"c":3136.9},
{"i":425,"o":3136.9,"h":3138.4,"l":3129.5,"c":3134.1}
],
"ma":[
{"i":0.07,"v":3114.3},{"i":1.6,"v":3109.4},{"i":3.6,"v":3103.5},{"i":5.6,"v":3101.1},{"i":7.1,"v":3099.6},{"i":8.7,"v":3099.8},{"i":10.3,"v":3101.6},{"i":11.8,"v":3101.8},{"i":13,"v":3100.1},{"i":15,"v":3098.4},{"i":16.5,"v":3099.1},{"i":18.9,"v":3099.1},{"i":20.9,"v":3099.1},{"i":22.4,"v":3099.4},{"i":24,"v":3101.6},{"i":26,"v":3101.6},{"i":27.9,"v":3102.1},{"i":29.9,"v":3102.6},{"i":31.4,"v":3104.5},{"i":33.4,"v":3107.5},{"i":35.4,"v":3110.9},{"i":36.9,"v":3114.3},{"i":38.5,"v":3116.3},{"i":40.1,"v":3116.1},{"i":41.2,"v":3114.3},{"i":42.4,"v":3110.9},{"i":44,"v":3108.0},{"i":45,"v":3103.5},{"i":45.6,"v":3097.7},{"i":47.1,"v":3089.8},{"i":48.7,"v":3085.4},{"i":51,"v":3083.4},{"i":52.6,"v":3081.8},{"i":54.2,"v":3081.0},{"i":55.8,"v":3082.0},{"i":57.7,"v":3082.9},{"i":59.7,"v":3083.1},{"i":62.4,"v":3082.7},{"i":63.6,"v":3083.9},{"i":65.6,"v":3087.8},{"i":67.4,"v":3091.3},{"i":68.7,"v":3094.7},{"i":70.3,"v":3099.6},{"i":71.8,"v":3101.8},{"i":73.8,"v":3103.1},{"i":75.8,"v":3104.5},{"i":77,"v":3105.5},{"i":78.5,"v":3108.0},{"i":80.1,"v":3111.4},{"i":82,"v":3115.8},{"i":83.6,"v":3119.2},{"i":84.8,"v":3120.3},{"i":86.3,"v":3123.3},{"i":87.9,"v":3125.5},{"i":89.1,"v":3126.0},{"i":90.3,"v":3124.9},{"i":91.4,"v":3122.7},{"i":93,"v":3121.4},{"i":95,"v":3121.0},{"i":96.1,"v":3120.3},{"i":98.1,"v":3120.3},{"i":100.1,"v":3120.5},{"i":101.6,"v":3117.2},{"i":103.6,"v":3112.2},{"i":106,"v":3110.3},{"i":107.1,"v":3105.5},{"i":109.1,"v":3096.1},{"i":111.4,"v":3085.1},{"i":113.8,"v":3073.4},{"i":116.2,"v":3066.8},{"i":117.7,"v":3061.8},{"i":120.9,"v":3054.6},{"i":123.2,"v":3048.5},{"i":124.8,"v":3046.8},{"i":127.1,"v":3045.7},{"i":128.7,"v":3043.0},{"i":131,"v":3041.0},{"i":133.4,"v":3041.3},{"i":135,"v":3041.6},{"i":136.6,"v":3046.3},{"i":138.1,"v":3052.4},{"i":140.5,"v":3056.8},{"i":142.8,"v":3059.8},{"i":144.8,"v":3062.3},{"i":147.5,"v":3062.3},{"i":149.1,"v":3063.4},{"i":151.1,"v":3064.6},{"i":152.2,"v":3064.0},{"i":153.4,"v":3060.7},{"i":155.4,"v":3051.8},{"i":156.9,"v":3046.3},{"i":158.9,"v":3036.3},{"i":160.9,"v":3029.7},{"i":162.8,"v":3025.2},{"i":164,"v":3024.1},{"i":166.4,"v":3019.7},{"i":168.3,"v":3016.4},{"i":170.7,"v":3015.8},{"i":172.6,"v":3015.9},{"i":174.6,"v":3016.0},{"i":176.2,"v":3015.3},{"i":178.1,"v":3017.7},{"i":180.1,"v":3020.6},{"i":182,"v":3025.2},{"i":183.2,"v":3029.9},{"i":185.2,"v":3034.0},{"i":187.1,"v":3037.1},{"i":189.9,"v":3040.4},{"i":192.2,"v":3040.4},{"i":195.4,"v":3040.4},{"i":198.5,"v":3041.5},{"i":199.7,"v":3043.9},{"i":200.8,"v":3046.2},{"i":203.2,"v":3050.3},{"i":205.2,"v":3056.1},{"i":206.7,"v":3062.5},{"i":209.5,"v":3067.2},{"i":212.2,"v":3071.2},{"i":215,"v":3073.9},{"i":217,"v":3075.9},{"i":218.9,"v":3075.9},{"i":220.1,"v":3075.9},{"i":222.1,"v":3079.4},{"i":224.4,"v":3084.0},{"i":226.8,"v":3089.3},{"i":229.1,"v":3093.4},{"i":230.7,"v":3095.3},{"i":232.6,"v":3095.7},{"i":234.1,"v":3098.0},{"i":236.8,"v":3099.8},{"i":238.5,"v":3102.7},{"i":240.9,"v":3106.7},{"i":243.2,"v":3110.8},{"i":244.9,"v":3117.8},{"i":246.7,"v":3120.1},{"i":248.7,"v":3122.5},{"i":250.2,"v":3124.8},{"i":252.2,"v":3125.6},{"i":254.2,"v":3125.9},{"i":256.6,"v":3126.0},{"i":257.7,"v":3125.6},{"i":260,"v":3126.3},{"i":262.4,"v":3127.1},{"i":264.8,"v":3126.6},{"i":267.9,"v":3124.6},{"i":269.5,"v":3123.0},{"i":271.1,"v":3122.0},{"i":272.2,"v":3123.2},{"i":273.8,"v":3125.6},{"i":275.4,"v":3130.5},{"i":277.7,"v":3137.4},{"i":280.5,"v":3143.3},{"i":283.6,"v":3150.2},{"i":286.8,"v":3155.1},{"i":289.1,"v":3157.0},{"i":291.5,"v":3158.7},{"i":293,"v":3159.5},{"i":294.6,"v":3161.9},{"i":297,"v":3165.6},{"i":299.3,"v":3165.2},{"i":301.7,"v":3164.9},{"i":303.2,"v":3162.9},{"i":305.6,"v":3159.5},{"i":307.5,"v":3157.7},{"i":309.5,"v":3157.3},{"i":311.5,"v":3158.7},{"i":313.8,"v":3159.8},{"i":315.3,"v":3158.5},{"i":316.5,"v":3154.1},{"i":318.1,"v":3151.1},{"i":320.5,"v":3149.4},{"i":322.8,"v":3148.5},{"i":324.3,"v":3146.2},{"i":326.4,"v":3144.8},{"i":328.7,"v":3144.8},{"i":330.7,"v":3143.3},{"i":332.2,"v":3143.3},{"i":333.8,"v":3145.1},{"i":336.1,"v":3145.5},{"i":337.7,"v":3144.8},{"i":338.9,"v":3145.5},{"i":340.1,"v":3149.0},{"i":341.6,"v":3153.1},{"i":344,"v":3155.1},{"i":346.7,"v":3157.0},{"i":348.7,"v":3157.0},{"i":351,"v":3157.7},{"i":353.4,"v":3158.5},{"i":355.4,"v":3159.8},{"i":356.1,"v":3159.8},{"i":357.3,"v":3154.6},{"i":358.9,"v":3151.1},{"i":360.5,"v":3149.2},{"i":362,"v":3148.7},{"i":363.6,"v":3147.7},{"i":365.2,"v":3147.2},{"i":367.1,"v":3146.2},{"i":369.1,"v":3142.8},{"i":371.4,"v":3138.4},{"i":373.8,"v":3135.9},{"i":376.2,"v":3134.5},{"i":377.3,"v":3134.0},{"i":379.3,"v":3135.9},{"i":381.7,"v":3140.8},{"i":384,"v":3143.8},{"i":385.2,"v":3147.7},{"i":386.7,"v":3155.0},{"i":389.5,"v":3164.4},{"i":391.9,"v":3170.3},{"i":393.8,"v":3175.7},{"i":395.8,"v":3178.1},{"i":398.1,"v":3180.1},{"i":400.1,"v":3183.0},{"i":402,"v":3186.5},{"i":404,"v":3191.9},{"i":406,"v":3196.3},{"i":406.9,"v":3197.0},{"i":407.9,"v":3191.9},{"i":409.1,"v":3183.0},{"i":410.7,"v":3179.1},{"i":413,"v":3174.2},{"i":415.4,"v":3169.3},{"i":417.3,"v":3166.4},{"i":419.3,"v":3164.4},{"i":421.7,"v":3163.6},{"i":423.2,"v":3162.9},{"i":424.8,"v":3158.5},{"i":426,"v":3156.0}
],
"seps":[{"s":22.5},{"s":45.5},{"s":68.5},{"s":91.5},{"s":114.5},{"s":137.5},{"s":160.5},{"s":183.5},{"s":206.5},{"s":229.5},{"s":252.5},{"s":271.5},{"s":294.5},{"s":317.5},{"s":340.5},{"s":363.5},{"s":386.5},{"s":409.5}]
},
"layer":[
{
"data":{"name":"seps"},
"mark":{"type":"rule","color":"#606060","strokeWidth":1,"strokeDash":[8,4]},
"encoding":{
"x":{"field":"s","type":"quantitative","title":null,"scale":{"domain":[0.0706,425.48],"nice":false,"zero":false},
"axis":{"orient":"bottom","values":[6.5,29.5,52.5,75.5,98.5,121.5,144.5,167.5,190.5,213.5,236.5,259.5,278.5,301.5,324.5,347.5,370.5,393.5,416.5],
"labelExpr":"['Jun 18','Jun 19','Jun 22','Jun 23','Jun 24','Jun 25','Jun 26','Jun 29','Jun 30','Jul 1','Jul 2','Jul 3','Jul 6','Jul 7','Jul 8','Jul 9','Jul 10','Jul 13','Jul 14'][indexof([6.5,29.5,52.5,75.5,98.5,121.5,144.5,167.5,190.5,213.5,236.5,259.5,278.5,301.5,324.5,347.5,370.5,393.5,416.5], datum.value)]"}}
}
},
{
"data":{"values":[{"p":3148.5}]},
"mark":{"type":"rule","color":"#606060","strokeWidth":1,"strokeDash":[8,4]},
"encoding":{
"y":{"field":"p","type":"quantitative","title":null,"scale":{"domain":[2969.2,3240.94],"nice":false,"zero":false},
"axis":{"orient":"right","format":".2f","tickCount":43,"values":[2975,2981.25,2987.5,2993.75,3000,3006.25,3012.5,3018.75,3025,3031.25,3037.5,3043.75,3050,3056.25,3062.5,3068.75,3075,3081.25,3087.5,3093.75,3100,3106.25,3112.5,3118.75,3125,3131.25,3137.5,3143.75,3150,3156.25,3162.5,3168.75,3175,3181.25,3187.5,3193.75,3200,3206.25,3212.5,3218.75,3225,3231.25,3237.5]}}
}
},
{
"data":{"name":"bars"},
"mark":{"type":"rule","color":"#ffffff","strokeWidth":1.3,"clip":true},
"encoding":{
"x":{"field":"i","type":"quantitative","title":null,"scale":{"domain":[0.0706,425.48],"nice":false,"zero":false},
"axis":{"orient":"bottom","values":[6.5,29.5,52.5,75.5,98.5,121.5,144.5,167.5,190.5,213.5,236.5,259.5,278.5,301.5,324.5,347.5,370.5,393.5,416.5],
"labelExpr":"['Jun 18','Jun 19','Jun 22','Jun 23','Jun 24','Jun 25','Jun 26','Jun 29','Jun 30','Jul 1','Jul 2','Jul 3','Jul 6','Jul 7','Jul 8','Jul 9','Jul 10','Jul 13','Jul 14'][indexof([6.5,29.5,52.5,75.5,98.5,121.5,144.5,167.5,190.5,213.5,236.5,259.5,278.5,301.5,324.5,347.5,370.5,393.5,416.5], datum.value)]"}},
"y":{"field":"l","type":"quantitative","title":null,"scale":{"domain":[2969.2,3240.94],"nice":false,"zero":false},
"axis":{"orient":"right","format":".2f","tickCount":43,"values":[2975,2981.25,2987.5,2993.75,3000,3006.25,3012.5,3018.75,3025,3031.25,3037.5,3043.75,3050,3056.25,3062.5,3068.75,3075,3081.25,3087.5,3093.75,3100,3106.25,3112.5,3118.75,3125,3131.25,3137.5,3143.75,3150,3156.25,3162.5,3168.75,3175,3181.25,3187.5,3193.75,3200,3206.25,3212.5,3218.75,3225,3231.25,3237.5]}},
"y2":{"field":"h"}
}
},
{
"data":{"name":"bars"},
"mark":{"type":"bar","width":2.6,"strokeWidth":0.7,"clip":true},
"encoding":{
"x":{"field":"i","type":"quantitative","title":null,"scale":{"domain":[0.0706,425.48],"nice":false,"zero":false},
"axis":{"orient":"bottom","values":[6.5,29.5,52.5,75.5,98.5,121.5,144.5,167.5,190.5,213.5,236.5,259.5,278.5,301.5,324.5,347.5,370.5,393.5,416.5],
"labelExpr":"['Jun 18','Jun 19','Jun 22','Jun 23','Jun 24','Jun 25','Jun 26','Jun 29','Jun 30','Jul 1','Jul 2','Jul 3','Jul 6','Jul 7','Jul 8','Jul 9','Jul 10','Jul 13','Jul 14'][indexof([6.5,29.5,52.5,75.5,98.5,121.5,144.5,167.5,190.5,213.5,236.5,259.5,278.5,301.5,324.5,347.5,370.5,393.5,416.5], datum.value)]"}},
"y":{"field":"o","type":"quantitative","title":null,"scale":{"domain":[2969.2,3240.94],"nice":false,"zero":false},
"axis":{"orient":"right","format":".2f","tickCount":43,"values":[2975,2981.25,2987.5,2993.75,3000,3006.25,3012.5,3018.75,3025,3031.25,3037.5,3043.75,3050,3056.25,3062.5,3068.75,3075,3081.25,3087.5,3093.75,3100,3106.25,3112.5,3118.75,3125,3131.25,3137.5,3143.75,3150,3156.25,3162.5,3168.75,3175,3181.25,3187.5,3193.75,3200,3206.25,3212.5,3218.75,3225,3231.25,3237.5]}},
"y2":{"field":"c"},
"color":{"condition":[{"test":"datum.c > datum.o","value":"#12a012"},{"test":"datum.c < datum.o","value":"#e00000"}],"value":"#ffff00"},
"stroke":{"condition":[{"test":"datum.c > datum.o","value":"#12a012"},{"test":"datum.c < datum.o","value":"#e00000"}],"value":"#ffff00"}
}
},
{
"data":{"values":[{"p":3105.03}]},
"mark":{"type":"rule","color":"#d8d8d8","strokeWidth":1},
"encoding":{"y":{"field":"p","type":"quantitative","title":null,"scale":{"domain":[2969.2,3240.94],"nice":false,"zero":false},
"axis":{"orient":"right","format":".2f","tickCount":43,"values":[2975,2981.25,2987.5,2993.75,3000,3006.25,3012.5,3018.75,3025,3031.25,3037.5,3043.75,3050,3056.25,3062.5,3068.75,3075,3081.25,3087.5,3093.75,3100,3106.25,3112.5,3118.75,3125,3131.25,3137.5,3143.75,3150,3156.25,3162.5,3168.75,3175,3181.25,3187.5,3193.75,3200,3206.25,3212.5,3218.75,3225,3231.25,3237.5]}}}
},
{
"data":{"values":[{"p":3105.03,"at":212.8,"t":"3105.03"}]},
"mark":{"type":"text","color":"#a0a0a0","font":"Liberation Sans","fontSize":8,"baseline":"bottom","align":"center","dy":-1},
"encoding":{
"x":{"field":"at","type":"quantitative","title":null,"scale":{"domain":[0.0706,425.48],"nice":false,"zero":false},
"axis":{"orient":"bottom","values":[6.5,29.5,52.5,75.5,98.5,121.5,144.5,167.5,190.5,213.5,236.5,259.5,278.5,301.5,324.5,347.5,370.5,393.5,416.5],
"labelExpr":"['Jun 18','Jun 19','Jun 22','Jun 23','Jun 24','Jun 25','Jun 26','Jun 29','Jun 30','Jul 1','Jul 2','Jul 3','Jul 6','Jul 7','Jul 8','Jul 9','Jul 10','Jul 13','Jul 14'][indexof([6.5,29.5,52.5,75.5,98.5,121.5,144.5,167.5,190.5,213.5,236.5,259.5,278.5,301.5,324.5,347.5,370.5,393.5,416.5], datum.value)]"}},
"y":{"field":"p","type":"quantitative","title":null,"scale":{"domain":[2969.2,3240.94],"nice":false,"zero":false},
"axis":{"orient":"right","format":".2f","tickCount":43,"values":[2975,2981.25,2987.5,2993.75,3000,3006.25,3012.5,3018.75,3025,3031.25,3037.5,3043.75,3050,3056.25,3062.5,3068.75,3075,3081.25,3087.5,3093.75,3100,3106.25,3112.5,3118.75,3125,3131.25,3137.5,3143.75,3150,3156.25,3162.5,3168.75,3175,3181.25,3187.5,3193.75,3200,3206.25,3212.5,3218.75,3225,3231.25,3237.5]}},
"text":{"field":"t"}}
},
{
"data":{"name":"ma"},
"mark":{"type":"line","color":"#e6dc00","strokeWidth":1.2,"clip":true,"interpolate":"monotone"},
"encoding":{
"x":{"field":"i","type":"quantitative","title":null,"scale":{"domain":[0.0706,425.48],"nice":false,"zero":false},
"axis":{"orient":"bottom","values":[6.5,29.5,52.5,75.5,98.5,121.5,144.5,167.5,190.5,213.5,236.5,259.5,278.5,301.5,324.5,347.5,370.5,393.5,416.5],
"labelExpr":"['Jun 18','Jun 19','Jun 22','Jun 23','Jun 24','Jun 25','Jun 26','Jun 29','Jun 30','Jul 1','Jul 2','Jul 3','Jul 6','Jul 7','Jul 8','Jul 9','Jul 10','Jul 13','Jul 14'][indexof([6.5,29.5,52.5,75.5,98.5,121.5,144.5,167.5,190.5,213.5,236.5,259.5,278.5,301.5,324.5,347.5,370.5,393.5,416.5], datum.value)]"}},
"y":{"field":"v","type":"quantitative","title":null,"scale":{"domain":[2969.2,3240.94],"nice":false,"zero":false},
"axis":{"orient":"right","format":".2f","tickCount":43,"values":[2975,2981.25,2987.5,2993.75,3000,3006.25,3012.5,3018.75,3025,3031.25,3037.5,3043.75,3050,3056.25,3062.5,3068.75,3075,3081.25,3087.5,3093.75,3100,3106.25,3112.5,3118.75,3125,3131.25,3137.5,3143.75,3150,3156.25,3162.5,3168.75,3175,3181.25,3187.5,3193.75,3200,3206.25,3212.5,3218.75,3225,3231.25,3237.5]}}
}
}
]
}
